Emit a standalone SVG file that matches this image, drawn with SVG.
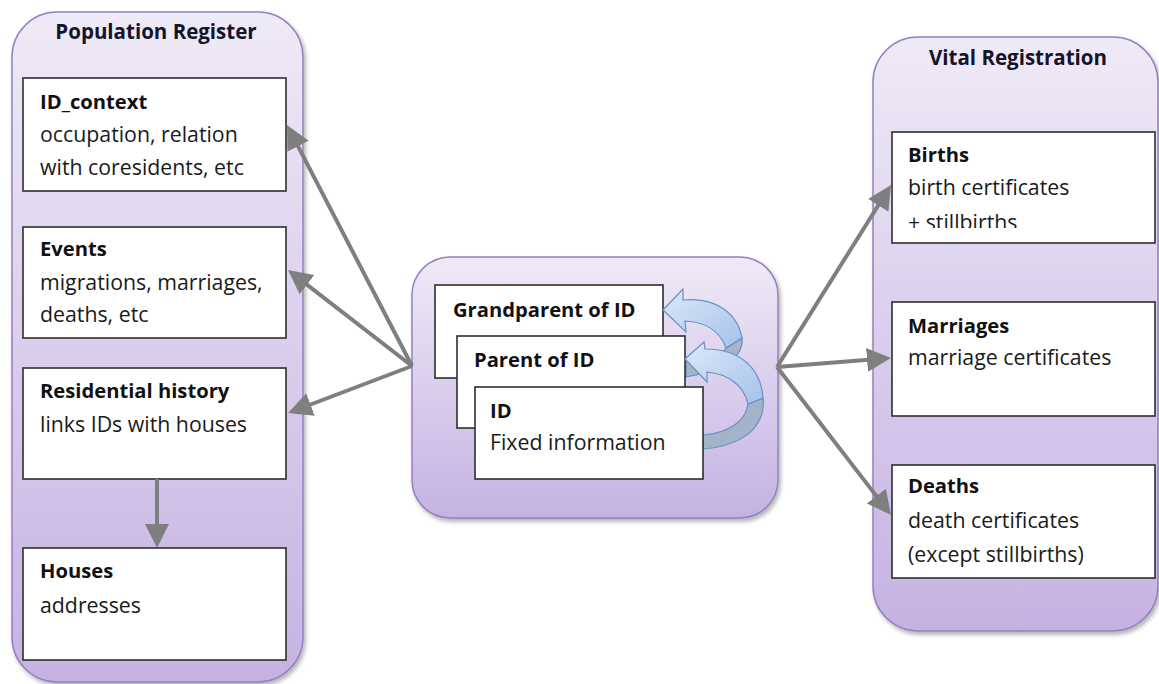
<svg xmlns="http://www.w3.org/2000/svg" width="1159" height="684" viewBox="0 0 1159 684">
  <defs>
    <linearGradient id="panelFill" x1="0" y1="0" x2="0" y2="1">
      <stop offset="0" stop-color="#efeaf7"/>
      <stop offset="1" stop-color="#c5b2e2"/>
    </linearGradient>
    <linearGradient id="ribbonFill" x1="0" y1="0" x2="1" y2="1">
      <stop offset="0" stop-color="#dce8f8"/>
      <stop offset="1" stop-color="#a4c3ea"/>
    </linearGradient>
    <filter id="panelShadow" x="-5%" y="-5%" width="115%" height="115%">
      <feDropShadow dx="2" dy="3" stdDeviation="2" flood-color="#000" flood-opacity="0.3"/>
    </filter>
    <marker id="arrowHead" viewBox="0 0 24 24" refX="14" refY="12" markerWidth="24" markerHeight="24" markerUnits="userSpaceOnUse" orient="auto">
      <path d="M0,0 L24,12 L0,24 Z" fill="#7f7f7f"/>
    </marker>
    <clipPath id="birthsClip">
      <rect x="892" y="132" width="263" height="96"/>
    </clipPath>
    <style>
      .panel { fill: url(#panelFill); stroke: #9580c0; stroke-width: 1.5; filter: url(#panelShadow); }
      .box { fill: #ffffff; stroke: #2e2e2e; stroke-width: 1.6; }
      .title { font-family: "Open Sans", "Liberation Sans", sans-serif; font-size: 20.5px; font-weight: bold; fill: #14142a; text-anchor: middle; }
      .head { font-family: "Open Sans", "Liberation Sans", sans-serif; font-size: 20.2px; font-weight: bold; fill: #111111; }
      .body { font-family: "Open Sans", "Liberation Sans", sans-serif; font-size: 21.3px; fill: #1a1a1a; }
      .link { fill: none; stroke: #7f7f7f; stroke-width: 4; marker-end: url(#arrowHead); }
      .ribbon { fill: url(#ribbonFill); stroke: #6a8fc2; stroke-width: 1.2; }
      .ribbonBack { fill: #a4b4c8; stroke: #6a8fc2; stroke-width: 1.2; }
    </style>
  </defs>

  <!-- Population Register panel -->
  <g id="population-register">
    <rect class="panel" x="12" y="12" width="291" height="670" rx="45"/>
    <text class="title" x="156" y="39">Population Register</text>
  </g>
  <g id="id-context">
    <rect class="box" x="23" y="78" width="263" height="113"/>
    <text class="head" x="40" y="109">ID_context</text>
    <text class="body" x="40" y="142">occupation, relation</text>
    <text class="body" x="40" y="175">with coresidents, etc</text>
  </g>
  <g id="events">
    <rect class="box" x="23" y="227" width="263" height="111"/>
    <text class="head" x="40" y="256">Events</text>
    <text class="body" x="40" y="290">migrations, marriages,</text>
    <text class="body" x="40" y="322">deaths, etc</text>
  </g>
  <g id="residential-history">
    <rect class="box" x="23" y="368" width="263" height="111"/>
    <text class="head" x="40" y="398">Residential history</text>
    <text class="body" x="40" y="432">links IDs with houses</text>
  </g>
  <g id="houses">
    <rect class="box" x="23" y="548" width="263" height="112"/>
    <text class="head" x="40" y="578">Houses</text>
    <text class="body" x="40" y="613">addresses</text>
  </g>

  <!-- Vital Registration panel -->
  <g id="vital-registration">
    <rect class="panel" x="873" y="37" width="285" height="594" rx="45"/>
    <text class="title" x="1018" y="65">Vital Registration</text>
  </g>
  <g id="births">
    <rect class="box" x="892" y="132" width="263" height="111"/>
    <text class="head" x="908" y="162">Births</text>
    <text class="body" x="908" y="195">birth certificates</text>
    <text class="body" x="908" y="230" clip-path="url(#birthsClip)">+ stillbirths</text>
  </g>
  <g id="marriages">
    <rect class="box" x="892" y="302" width="263" height="114"/>
    <text class="head" x="908" y="333">Marriages</text>
    <text class="body" x="908" y="365">marriage certificates</text>
  </g>
  <g id="deaths">
    <rect class="box" x="892" y="465" width="263" height="113"/>
    <text class="head" x="908" y="493">Deaths</text>
    <text class="body" x="908" y="528">death certificates</text>
    <text class="body" x="908" y="562">(except stillbirths)</text>
  </g>

  <!-- Central ID panel with the generation stack -->
  <g id="id-panel">
    <rect class="panel" x="412" y="257" width="366" height="261" rx="38"/>
  </g>
  <g id="grandparent">
    <rect class="box" x="435" y="285" width="228" height="93"/>
    <text class="head" x="453" y="317">Grandparent of ID</text>
  </g>
  <g id="ribbon-upper">
    <path class="ribbonBack" d="M742,338 C744,358 721,371 686,377 L686,362 C709,359 723,353 726,348 Z"/>
    <path class="ribbon" d="M663,310 L683,289 L683,300 C713,297 737,311 742,338 L726,348 C720,331 705,322 685,321 L686,332 Z"/>
  </g>
  <g id="parent">
    <rect class="box" x="457" y="336" width="228" height="92"/>
    <text class="head" x="474" y="367">Parent of ID</text>
  </g>
  <g id="ribbon-lower">
    <path class="ribbonBack" d="M763,398 C766,428 741,446 703,449 L703,435 C730,433 746,420 748,404 Z"/>
    <path class="ribbon" d="M685,359 L704,342 L705,349 C741,349 761,369 763,398 L748,404 C744,386 729,374 707,372 L707,382 Z"/>
  </g>
  <g id="id">
    <rect class="box" x="475" y="387" width="228" height="92"/>
    <text class="head" x="490" y="418">ID</text>
    <text class="body" x="490" y="450">Fixed information</text>
  </g>

  <!-- Connectors -->
  <g id="connectors">
    <path class="link" d="M412,366 L291.6,133.9"/>
    <path class="link" d="M412,366 L295.9,276.1"/>
    <path class="link" d="M412,366 L297.4,409.5"/>
    <path class="link" d="M157,479 L157,538"/>
    <path class="link" d="M777,367 L885.7,193.5"/>
    <path class="link" d="M777,367 L881,358.8"/>
    <path class="link" d="M777,367 L884.9,507.1"/>
  </g>
</svg>
